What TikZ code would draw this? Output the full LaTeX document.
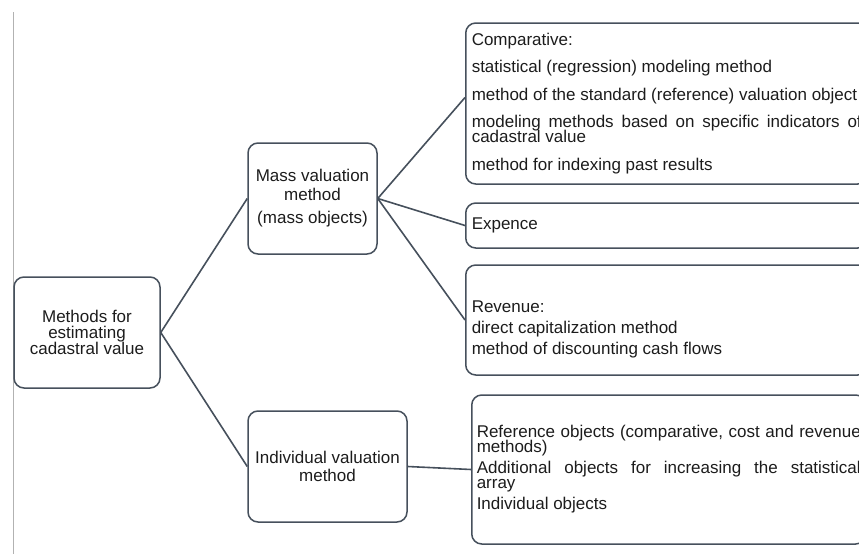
\documentclass[tikz,border=0pt]{standalone}
\usepackage{fontspec}
\setmainfont{Liberation Sans}

\definecolor{edgegray}{HTML}{46505C}
\definecolor{ink}{HTML}{1C1C1C}
\tikzset{
  methodbox/.style={draw=edgegray, line width=1.5pt, rounded corners=10pt, text=ink,
    align=center, minimum height=111pt, font=\fontsize{17}{16}\selectfont},
  itembox/.style={draw=edgegray, line width=1.5pt, rounded corners=10pt, text=ink,
    anchor=west, inner xsep=6pt, text width=390pt, align=justify,
    font=\fontsize{17}{15}\selectfont,
    execute at begin node={\parskip=#1\relax\spaceskip=4.7pt plus 12pt\relax
      \hyphenpenalty=10000\tolerance=10000\lineskiplimit=-20pt\relax}},
  itembox/.default=12.5pt,
  branch/.style={draw=edgegray, line width=1.6pt}
}
\lineskiplimit=-20pt

\begin{document}
\begin{tikzpicture}[x=1pt,y=-1pt]
  \useasboundingbox (0,0) rectangle (859,554);
  \draw[gray!60, line width=1pt] (13,12) -- (13,554);

  % methods
  \node[methodbox, minimum width=146pt] (root) at (87,332.5) {Methods for\\estimating\\cadastral value};
  \node[methodbox, minimum width=129pt] (mass) at (312.5,198.5) {Mass valuation\\[3pt]method\\[7pt](mass objects)};
  \node[methodbox, minimum width=159pt] (indiv) at (327.5,466.5) {Individual valuation\\[2pt]method};

  % approaches and objects
  \node[itembox, minimum height=161pt] (comp) at (465,103.5) {Comparative:\par
    statistical (regression) modeling method\par
    method of the standard (reference) valuation object\par
    modeling methods based on specific indicators of cadastral value\par
    method for indexing past results};
  \node[itembox, minimum height=45pt] (exp) at (465,225.5) {Expence};
  \node[itembox=6pt, minimum height=110pt] (rev) at (465,320) {\par\vspace{10pt}Revenue:\par
    direct capitalization method\par
    method of discounting cash flows};
  \node[itembox=7pt, minimum height=149pt, inner xsep=5pt, text width=384pt,
    font=\fontsize{17}{14.5}\selectfont] (ref) at (471,469.5) {Reference objects (comparative, cost and revenue methods)\par
    Additional objects for increasing the statistical array\par
    Individual objects};

  \draw[branch] (root.east) -- (mass.west);
  \draw[branch] (root.east) -- (indiv.west);
  \draw[branch] (mass.east) -- ([yshift=6pt]comp.west);
  \draw[branch] (mass.east) -- (exp.west);
  \draw[branch] (mass.east) -- (rev.west);
  \draw[branch] (indiv.east) -- (ref.west);
\end{tikzpicture}
\end{document}
